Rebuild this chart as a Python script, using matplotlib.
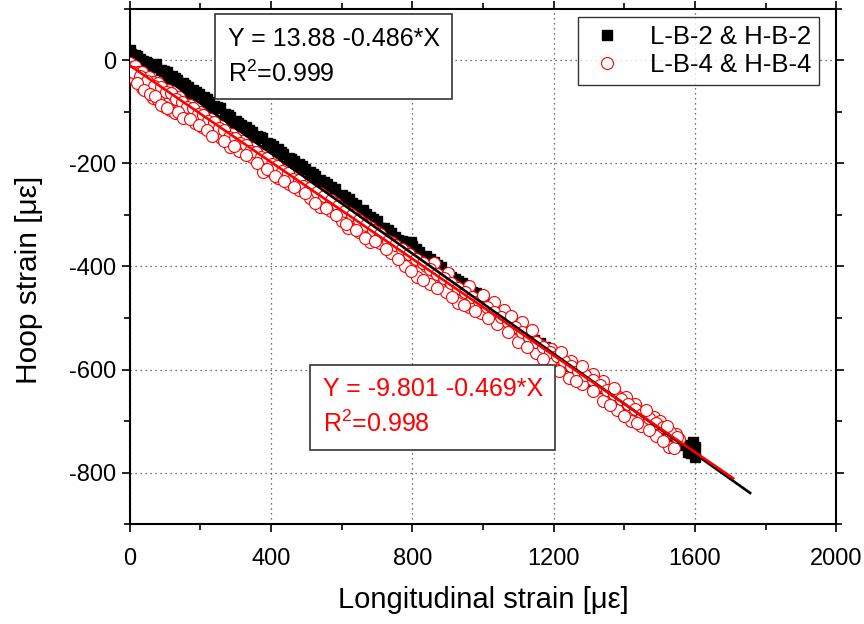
"""Hoop vs longitudinal strain with linear fits."""

import matplotlib
matplotlib.use("Agg")
import matplotlib.pyplot as plt
from matplotlib.ticker import MultipleLocator

plt.rcParams["font.family"] = ["Liberation Sans", "DejaVu Sans"]
plt.rcParams["mathtext.fontset"] = "custom"
plt.rcParams["mathtext.rm"] = "Liberation Sans"
plt.rcParams["axes.unicode_minus"] = False

# L-B-2 & H-B-2 (black squares)
b2_x = [0, 5, 10, 20, 30, 45, 60, 75, 90, 105, 120, 135, 150, 165, 180, 195,
        210, 225, 240, 255, 270, 285, 300, 315, 330, 345, 360, 375, 390, 405,
        420, 435, 450, 465, 480, 495, 510, 525, 540, 560, 580, 600, 620, 640,
        660, 680, 700, 720, 740, 760, 780, 795, 800, 820, 840, 860, 880, 900,
        920, 940, 960, 980, 1000, 1020, 1040, 1060, 1080, 1100, 1130, 1160,
        1190, 1220, 1250, 1280, 1310, 1340, 1360, 1400, 1420, 1450, 1480,
        1510, 1540, 1570, 1585, 1590, 1600, 1595,
        50, 110, 170, 230, 290, 350, 410, 470, 530, 590, 650, 710, 770, 830,
        890, 950,
        15, 38, 68, 98, 128, 158, 188, 218, 248, 278, 308, 338, 368, 398, 428,
        458, 488, 518, 550, 570, 610, 630, 670, 690, 730, 750, 770, 810, 850,
        870, 910, 930, 970, 990, 1010, 1050, 1070, 1090, 1115, 1145, 1175,
        1205, 1235, 1265, 1295, 1325, 1380, 1435, 1465, 1495, 1525, 1555,
        1600, 1580]
b2_y = [20, 12, 5, 8, 2, -3, -10, -8, -18, -22, -30, -38, -45, -52, -58, -66,
        -72, -80, -88, -92, -104, -110, -118, -125, -130, -140, -146, -150,
        -160, -166, -172, -182, -190, -196, -202, -210, -216, -224, -232,
        -240, -250, -262, -270, -280, -290, -304, -312, -326, -336, -348,
        -352, -352, -360, -372, -380, -392, -402, -414, -424, -432, -446,
        -452, -468, -478, -488, -500, -510, -520, -536, -548, -566, -578,
        -594, -608, -622, -636, -644, -666, -672, -690, -704, -718, -736,
        -746, -752, -762, -770, -740,
        -6, -36, -64, -94, -122, -152, -180, -208, -238, -266, -296, -326,
        -356, -386, -416, -446,
        10, -2, -14, -20, -34, -48, -62, -76, -90, -106, -122, -136, -148,
        -162, -178, -192, -206, -220, -236, -246, -266, -276, -298, -308,
        -330, -342, -350, -366, -386, -398, -420, -428, -450, -462, -472,
        -494, -506, -516, -528, -542, -556, -572, -586, -600, -616, -630,
        -656, -682, -698, -712, -728, -742, -750, -760]

# L-B-4 & H-B-4 (red open circles)
b4_x = [2, 8, 15, 25, 35, 45, 55, 65, 80, 95, 110, 125, 140, 155, 170, 185,
        200, 215, 230, 245, 260, 275, 290, 305, 320, 335, 350, 365, 380, 395,
        410, 425, 440, 455, 470, 485, 500, 520, 540, 560, 580, 600, 620, 640,
        660, 680, 700, 720, 740, 760, 780, 800, 820, 840, 860, 880, 900, 920,
        940, 960, 980, 1000, 1020, 1040, 1060, 1080, 1100, 1120, 1140, 1160,
        1180, 1200, 1220, 1240, 1260, 1280, 1300, 1320, 1340, 1360, 1380,
        1400, 1420, 1440, 1460, 1480, 1500, 1520, 1540, 1555,
        5, 14, 34, 50, 65, 80, 99, 115, 128, 145, 161, 185, 205, 241, 260,
        284, 310, 346, 377, 400, 420, 450, 480, 510, 539, 570, 600, 619, 650,
        680, 709, 740, 780, 814, 850, 894, 930, 960, 993, 1040, 1100, 1150,
        1190, 1243, 1280, 1339, 1380, 1420, 1447, 1490, 1526, 1540,
        860, 900, 960, 1030, 1060, 1110, 1192, 1250, 1311, 1340, 1405, 1430,
        1484, 1546, 1500,
        10, 30, 50, 70, 88, 102, 118, 132, 148, 162, 178, 193, 208, 222, 238,
        252, 268, 282, 298, 312, 328, 342, 358, 372, 388, 402, 418, 432, 448,
        462, 478, 492, 510, 530, 550, 570, 590, 610, 630, 650, 670, 690, 710,
        730, 750, 770, 790, 810, 830, 850, 870, 890, 910, 930, 950, 970, 990,
        1010, 1030, 1050, 1070, 1090, 1110, 1130, 1150, 1170, 1190, 1210,
        1230, 1250, 1270, 1290, 1310, 1330, 1350, 1370, 1390, 1410, 1430,
        1450, 1470, 1490, 1510, 1530, 1548,
        22, 42, 58, 72, 90, 106, 138, 152, 172, 195, 220, 232, 268, 295, 330,
        360, 388, 412, 438, 465, 495, 525, 555, 585, 612, 640, 665, 695, 725,
        760, 795, 830, 870, 912, 945, 978, 1015, 1070, 1125, 1170, 1215, 1262,
        1310, 1360, 1400, 1435, 1470, 1510,
        1000, 1080, 1140, 1220, 1280, 1370, 1460, 1520]
b4_y = [-5, -14, -12, -22, -22, -34, -32, -42, -44, -55, -58, -70, -72, -84,
        -86, -98, -100, -112, -114, -126, -128, -142, -144, -155, -156, -170,
        -170, -182, -184, -196, -198, -210, -212, -224, -226, -238, -240,
        -254, -258, -270, -276, -288, -296, -306, -316, -324, -334, -346,
        -352, -364, -370, -382, -390, -400, -408, -418, -426, -438, -446,
        -454, -464, -472, -484, -492, -504, -512, -522, -534, -540, -552,
        -560, -568, -580, -588, -598, -606, -614, -626, -634, -644, -652,
        -662, -672, -680, -690, -698, -708, -716, -726, -734,
        -30, -39, -54, -60, -74, -78, -90, -96, -103, -104, -106, -122, -130,
        -141, -150, -168, -176, -187, -217, -214, -229, -240, -252, -268,
        -285, -292, -312, -325, -334, -352, -354, -374, -400, -420, -434,
        -449, -470, -478, -490, -512, -546, -568, -590, -616, -628, -662,
        -678, -700, -710, -728, -751, -752,
        -393, -412, -438, -469, -484, -508, -561, -584, -608, -622, -654,
        -666, -692, -726, -700,
        -22, -30, -40, -50, -52, -62, -64, -76, -80, -90, -92, -104, -106,
        -118, -120, -132, -136, -148, -150, -160, -164, -176, -178, -188,
        -190, -202, -206, -214, -218, -230, -232, -244, -248, -256, -264,
        -272, -282, -292, -300, -310, -320, -330, -338, -350, -358, -366,
        -376, -386, -394, -404, -414, -422, -432, -442, -450, -460, -468,
        -478, -488, -498, -508, -518, -528, -536, -546, -556, -566, -574,
        -584, -594, -602, -610, -620, -630, -640, -648, -658, -666, -676,
        -686, -694, -704, -712, -722, -730,
        -44, -58, -66, -70, -86, -92, -100, -112, -114, -126, -136, -146,
        -156, -166, -184, -200, -210, -224, -234, -246, -258, -276, -286,
        -300, -318, -330, -344, -350, -366, -386, -408, -426, -442, -460,
        -474, -486, -500, -528, -556, -580, -602, -622, -642, -668, -690,
        -704, -718, -738,
        -456, -496, -524, -566, -594, -636, -678, -710]

# fitted lines (end points)
fit_b2_x = [0, 1756]
fit_b2_y = [13.9, -839.5]
fit_b4_x = [0, 1708]
fit_b4_y = [-9.8, -811.0]

fig = plt.figure(figsize=(8.64, 6.24), dpi=100)
ax = fig.add_axes([0.150, 0.160, 0.818, 0.826])

ax.plot(b2_x, b2_y, ls="none", marker="s", ms=7, color="black",
        label="L-B-2 & H-B-2", zorder=3)
ax.plot(b4_x, b4_y, ls="none", marker="o", ms=8.6, mfc="white", mec="red",
        mew=0.8, label="L-B-4 & H-B-4", zorder=4)
ax.plot(fit_b2_x, fit_b2_y, color="black", lw=1.9, zorder=5)
ax.plot(fit_b4_x, fit_b4_y, color="red", lw=1.9, zorder=6)

ax.set_xlim(0, 2000)
ax.set_ylim(-900, 100)
ax.xaxis.set_major_locator(MultipleLocator(400))
ax.xaxis.set_minor_locator(MultipleLocator(200))
ax.yaxis.set_major_locator(MultipleLocator(200))
ax.yaxis.set_minor_locator(MultipleLocator(100))
ax.tick_params(which="both", direction="out", top=True, right=True,
               labelsize=17, width=1.2)
ax.tick_params(axis="x", which="major", pad=11)
ax.tick_params(which="major", length=6)
ax.tick_params(which="minor", length=4)
ax.grid(True, which="major", ls=(0, (1, 3)), color="#444444", lw=0.9)
ax.set_axisbelow(True)
for sp in ax.spines.values():
    sp.set_linewidth(1.5)

ax.set_xlabel("Longitudinal strain [με]", fontsize=21, labelpad=12)
ax.set_ylabel("Hoop strain [με]", fontsize=21.5)
ax.yaxis.set_label_coords(-0.122, 0.473)

ax.text(0.139, 0.965, "Y = 13.88 -0.486*X\nR$^2$=0.999", transform=ax.transAxes,
        fontsize=18, ha="left", va="top", linespacing=1.45, zorder=7,
        bbox=dict(boxstyle="square,pad=0.5", fc="white", ec="#333333", lw=1.2))
ax.text(0.273, 0.285, "Y = -9.801 -0.469*X\nR$^2$=0.998", transform=ax.transAxes,
        fontsize=18, color="red", ha="left", va="top", linespacing=1.45,
        zorder=7,
        bbox=dict(boxstyle="square,pad=0.5", fc="white", ec="#333333", lw=1.2))

leg = ax.legend(loc="upper right", bbox_to_anchor=(0.976, 0.983), fontsize=18.5,
                frameon=True, fancybox=False, edgecolor="black",
                handletextpad=0.9, borderpad=0.3, labelspacing=0.15,
                handlelength=1.6, borderaxespad=0)
leg.get_frame().set_linewidth(1.0)
leg.set_zorder(8)

fig.savefig("out.png", dpi=100)
